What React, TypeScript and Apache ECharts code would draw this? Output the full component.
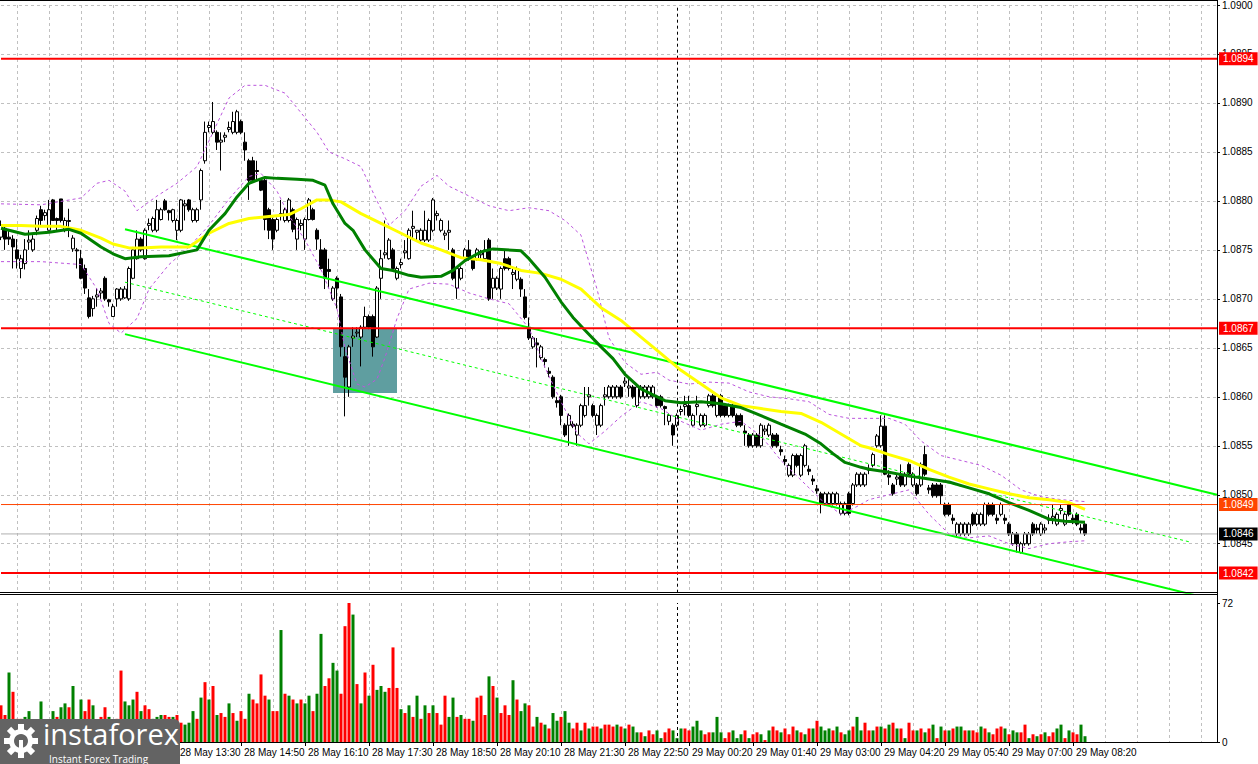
import React, { useEffect, useRef } from "react";
import * as echarts from "echarts";

// ---------- DATA (prices in pips above 1.0800) ----------
const BASE = 1.08;
const PIP = 0.0001;
const N_SLOTS = 305;

const opens = [76.3,77.2,76.3,76.1,75.0,73.1,73.6,75.8,75.0,77.0,79.1,78.5,77.0,80.1,78.2,80.2,77.0,77.9,75.1,75.0,74.1,73.1,70.1,69.0,70.2,70.6,72.1,69.9,68.2,70.0,70.0,70.1,70.0,72.1,74.1,76.1,74.1,77.5,77.0,77.0,78.1,80.0,79.0,78.0,77.0,77.0,79.5,80.1,78.0,78.0,80.1,84.1,87.5,87.0,87.0,86.0,86.5,87.3,87.0,87.0,88.1,86.0,84.1,84.1,83.1,82.1,82.1,79.1,78.1,77.0,78.5,78.0,78.0,79.1,76.1,77.5,76.1,78.1,79.1,77.0,75.0,75.0,73.0,70.0,72.1,70.2,64.1,61.0,66.0,66.5,66.1,67.1,68.2,68.2,66.1,72.1,74.5,74.1,75.0,72.1,73.5,74.7,74.1,77.2,76.8,76.0,76.0,76.0,77.0,78.5,77.0,76.5,76.8,75.0,71.1,72.1,74.1,75.0,74.1,74.1,74.5,74.1,76.0,71.1,71.1,71.0,74.1,74.1,72.5,72.0,72.0,70.2,67.1,65.1,65.5,64.0,63.8,62.6,62.0,59.6,60.0,57.1,57.1,57.2,56.1,57.1,58.1,60.0,59.1,57.1,57.1,60.0,60.0,60.0,60.0,61.0,61.4,60.9,61.0,59.1,60.0,60.0,60.0,60.0,60.0,60.0,59.0,57.5,57.1,57.1,58.5,59.0,59.1,57.1,59.0,57.1,57.1,59.1,60.1,58.1,60.1,59.1,58.1,59.1,58.1,58.1,56.5,56.1,55.0,56.1,55.0,56.5,56.1,56.1,56.1,54.6,53.6,52.0,52.0,54.0,52.0,53.0,52.6,51.6,50.6,50.1,49.1,49.1,49.1,49.1,48.1,48.1,50.1,49.1,51.0,51.0,51.0,52.5,53.0,55.0,55.0,57.0,52.0,51.0,51.6,52.1,51.0,53.1,51.0,51.0,51.0,54.1,50.7,51.0,51.0,51.0,49.0,49.0,47.6,46.0,46.0,46.0,46.0,48.0,47.0,47.0,47.0,49.0,49.0,47.6,48.0,47.6,47.0,45.0,46.0,44.1,45.0,45.0,47.0,46.6,46.0,46.4,47.4,47.6,47.0,48.4,47.0,49.0,47.6,48.0,46.6,47.0];
const highs = [78.0,77.5,77.0,76.5,76.1,74.5,76.1,77.0,76.5,78.5,79.5,79.1,80.1,80.2,78.3,80.2,78.3,79.2,76.5,75.2,75.0,73.5,71.0,70.3,71.1,71.1,72.3,70.0,69.5,71.1,71.2,71.3,73.3,75.3,77.0,76.3,77.2,78.2,78.4,80.1,79.3,80.2,79.1,79.2,78.2,80.2,80.1,80.2,79.3,79.3,83.3,88.1,88.1,90.1,87.2,87.0,87.0,88.1,89.1,89.3,88.3,87.0,84.3,84.5,84.1,82.3,82.3,79.3,78.3,78.3,80.1,79.3,80.3,79.3,78.3,78.1,78.3,80.3,79.3,77.2,76.1,75.2,74.1,71.3,72.3,70.5,65.1,65.3,67.1,67.1,67.3,69.2,68.4,68.4,71.3,75.0,78.0,76.2,75.2,73.3,74.1,76.0,77.2,79.0,77.0,77.2,79.0,78.2,80.3,79.0,78.2,77.0,78.0,75.2,73.3,73.3,75.2,76.0,74.3,75.2,75.0,76.0,76.2,73.1,72.3,73.3,75.0,74.3,73.1,73.3,72.2,71.0,68.1,66.2,66.0,65.3,64.0,63.0,62.2,60.0,60.2,57.3,58.3,57.5,57.3,59.3,61.0,61.0,59.3,58.3,59.3,61.0,61.2,61.2,61.2,61.2,62.0,62.0,61.2,61.2,61.2,61.2,61.2,61.2,60.2,60.2,59.1,58.3,57.3,58.3,59.1,60.1,60.1,58.3,60.1,58.3,58.3,60.3,60.3,60.3,60.3,59.3,59.3,59.3,58.3,58.3,57.1,56.3,56.3,56.3,57.3,57.1,57.3,56.3,56.3,55.0,54.0,53.2,54.2,54.2,54.2,55.2,53.0,52.0,51.0,50.3,50.3,50.3,50.3,50.3,49.3,49.3,50.3,51.2,52.3,52.3,52.3,53.1,54.3,56.2,58.1,58.1,52.5,51.2,52.1,53.1,52.3,53.3,52.3,51.2,53.3,55.0,51.0,51.2,51.2,51.2,49.2,49.2,48.0,47.2,47.2,47.2,47.2,48.2,48.2,48.2,49.2,49.2,49.2,48.0,49.2,48.0,47.2,46.2,46.2,45.2,46.2,46.2,47.2,47.0,47.2,47.0,48.0,49.0,48.2,49.0,48.2,49.2,48.0,48.2,47.0,47.2];
const lows = [76.0,75.0,75.5,73.1,73.1,72.1,73.0,75.0,74.8,76.5,77.5,78.0,77.0,78.0,77.0,77.8,76.8,76.3,74.8,73.1,72.0,70.5,68.0,68.2,69.2,70.0,69.8,69.2,68.2,69.2,69.8,70.0,69.8,72.0,74.0,74.8,74.0,77.0,76.8,76.8,78.0,79.0,78.0,77.8,76.0,76.8,78.0,78.9,77.8,77.8,79.1,83.8,87.0,86.8,85.2,83.1,86.0,87.0,86.8,86.8,86.8,84.1,80.1,82.0,82.1,81.0,77.0,76.1,75.0,76.8,78.0,77.8,77.8,76.8,75.0,77.0,75.0,78.0,78.0,75.0,73.0,71.0,71.1,69.8,69.0,64.1,58.0,60.0,65.1,66.1,63.1,67.0,66.9,64.1,66.0,70.0,74.1,74.0,72.9,71.9,73.1,74.1,74.0,76.0,76.0,75.8,75.8,75.8,76.8,78.0,76.8,76.0,75.0,71.9,70.0,71.9,73.9,73.9,72.9,73.9,74.1,73.9,69.8,70.0,70.9,70.0,72.9,72.9,71.0,71.8,70.2,67.9,65.8,64.9,63.0,63.8,63.0,62.0,59.8,58.9,57.1,55.9,55.0,56.8,55.0,56.9,57.9,59.1,57.9,56.1,56.9,59.1,59.8,59.8,59.8,59.8,61.0,60.0,59.8,58.9,59.8,59.8,59.8,59.8,58.9,58.9,57.1,57.1,55.0,56.9,58.1,58.1,57.9,56.9,58.1,56.9,56.9,58.9,58.9,57.9,57.9,57.9,57.9,57.9,56.9,56.9,55.0,54.8,54.8,54.8,54.8,56.1,55.9,54.8,54.8,54.0,53.0,51.8,51.8,52.8,51.8,52.8,52.0,51.0,50.1,48.1,48.9,48.9,48.9,48.9,47.9,47.9,47.9,48.9,50.8,50.8,50.8,52.1,52.8,54.8,54.8,52.0,51.0,49.9,51.0,50.8,50.8,51.9,50.8,49.9,50.8,51.9,50.1,49.7,49.7,49.0,47.8,47.8,47.0,45.8,45.8,45.8,45.8,46.8,46.8,46.8,46.8,47.8,47.8,47.0,47.8,47.0,45.8,44.8,44.1,44.0,44.8,44.8,45.8,46.0,45.8,46.0,47.0,47.0,46.8,48.0,46.8,47.8,47.0,46.8,46.0,45.8];
const closes = [77.5,76.1,76.1,75.3,74.1,74.1,75.0,76.0,76.1,78.2,78.0,78.8,79.1,78.0,78.0,78.0,78.0,78.0,76.2,74.9,72.1,71.1,68.2,70.0,70.4,70.8,70.0,69.7,69.2,71.0,71.0,71.0,73.1,75.0,76.1,75.0,77.0,77.7,78.2,79.1,79.1,79.1,78.8,79.1,78.0,80.1,79.7,79.1,79.1,79.1,83.1,87.0,87.7,88.1,86.0,86.2,86.7,87.5,88.1,89.1,87.0,85.2,82.1,82.1,83.0,81.1,78.1,77.0,76.1,78.1,78.7,79.1,80.1,77.1,78.1,77.7,78.1,80.1,78.1,76.1,73.1,72.1,72.8,71.1,71.1,65.1,62.0,65.1,66.2,66.6,67.1,68.2,67.1,65.1,71.1,74.1,74.7,76.0,73.1,73.1,73.7,74.9,77.0,77.4,77.0,77.0,77.0,78.0,80.1,78.7,78.0,76.7,77.0,72.1,73.1,73.1,75.0,74.1,73.1,75.0,74.7,75.0,70.0,72.1,72.1,73.1,73.1,73.1,72.7,73.1,71.0,68.1,66.0,66.0,65.3,65.1,63.6,62.4,60.0,59.4,58.1,56.1,58.1,57.0,57.1,59.1,59.1,60.2,58.1,58.1,59.1,60.2,61.0,61.0,61.0,60.0,61.6,61.1,60.0,61.0,61.0,61.0,61.0,61.0,59.1,59.1,58.8,58.1,56.1,58.1,58.7,59.2,58.1,58.1,59.2,58.1,58.1,60.1,59.1,60.1,58.1,58.1,59.1,58.1,57.1,57.1,56.3,55.0,56.1,55.0,57.1,56.7,57.1,55.0,55.0,54.4,53.4,53.0,54.0,53.0,54.0,55.0,52.4,51.4,50.4,49.1,50.1,50.1,50.1,50.1,49.1,49.1,48.1,51.0,52.1,52.1,52.1,52.7,54.1,56.0,57.0,52.1,51.8,50.1,51.8,51.0,52.1,52.1,52.1,50.1,53.1,52.1,50.5,49.9,49.9,49.9,48.0,48.0,47.4,47.0,47.0,47.0,47.0,47.0,48.0,48.0,49.0,48.0,48.0,47.4,49.0,47.4,46.0,46.0,45.0,45.0,46.0,46.0,46.0,46.4,47.0,46.6,47.6,47.8,48.0,48.6,48.0,48.0,47.4,47.0,46.4,46.0];

const volumes = [19,14,36,26,12,12,13,16,10,8,21,10,9,16,13,18,20,18,29,10,22,16,22,19,9,13,18,13,8,12,37,21,19,22,26,16,19,17,12,13,14,14,13,13,14,10,9,10,16,12,23,31,22,29,14,15,13,20,15,11,16,12,25,22,20,35,24,22,16,16,58,25,24,22,20,22,20,24,16,25,56,29,33,41,37,25,60,72,66,30,20,36,24,40,27,29,26,28,49,28,17,15,19,13,24,12,19,15,19,15,9,24,13,23,13,14,12,12,11,23,24,14,34,29,23,15,19,14,32,22,16,20,19,8,13,10,9,7,15,11,13,16,10,7,10,6,10,7,8,8,7,9,9,8,9,8,7,9,8,5,5,3,6,4,6,2,5,7,6,2,7,7,6,8,11,6,4,5,5,13,5,2,5,6,2,4,6,2,4,5,4,1,6,8,6,5,7,4,8,6,5,4,7,7,11,8,6,7,6,8,5,4,6,8,13,6,10,6,6,8,8,7,9,10,7,7,2,10,6,6,7,5,7,9,2,8,6,6,7,8,8,6,6,6,5,8,7,5,4,7,8,7,4,6,5,5,9,2,4,3,4,5,3,5,7,9,2,6,5,4,9,3];
const volumeUp = "rrgrrrgg rrgrrgrggrgrgrrggrrggrrgggrgrrgggrrgrrgggrgrgrgrrgrgrrgrrrrgrrgrgrgrggrggrrggrrrgrgrgrgggrrrgrgrgrgrgrrrggrgrrgrrrgrgrrrgrggrrgrgrggrggrrgrgrrgrrrgrgrggrgrrggrrgggrrgggrrgggrrgggrgrrgrgrrgrrrgrgrgrgggrgrggrggrrgrgrgrgrgrrgrgrgrgrgrggrgrrgrgrrrgrggrrgrgrgrrggrgrrgggrgrrgg".replace(/ /g, "");

// moving averages: [bar index, pips]
const maGreenIdx = [0,6,12,17,20,25,28,31,35,42,49,52,56,59,62,66,69,74,78,81,83,86,88,91,95,98,102,105,110,113,116,120,123,130,132,136,140,143,146,150,153,156,160,163,166,170,175,180,185,188,191,195,198,201,205,208,211,215,217,222,227,232,237,242,247,252,257,262,266,271];
const maGreenVal = [77.2,76.6,76.8,77.1,76.7,75.3,74.6,74.1,74.3,74.4,75.0,77.0,78.7,80.4,81.8,82.4,82.3,82.2,82.1,81.6,79.7,77.7,77.0,75.0,73.1,72.9,72.4,72.2,72.3,72.9,73.9,74.8,75.1,74.9,74.1,72.2,69.7,68.1,66.8,65.1,63.9,62.3,60.8,60.2,59.6,59.4,59.5,59.3,58.9,58.4,57.9,57.2,56.7,56.2,55.2,54.2,53.3,52.8,52.6,52.3,51.9,51.6,51.3,50.7,50.1,49.2,48.4,47.5,47.3,47.2];
const maYellowIdx = [0,5,10,15,20,25,28,32,35,40,45,47,52,57,62,67,72,75,79,82,85,90,95,100,105,110,115,120,125,130,135,140,145,150,155,160,165,170,175,180,185,190,195,200,205,210,215,217,222,227,232,237,242,247,252,257,262,267,271];
const maYellowVal = [77.5,77.5,77.4,77.4,77.0,76.2,75.6,75.2,75.2,75.3,75.3,75.3,76.7,77.7,78.2,78.4,78.6,79.2,80.1,80.1,79.9,78.7,77.7,76.7,75.7,75.0,74.2,74.0,73.6,72.9,72.6,72.0,71.0,69.1,67.8,66.1,64.4,62.7,61.3,59.9,59.1,58.8,58.5,58.3,57.4,56.2,55.0,54.8,54.1,53.5,52.6,51.8,51.1,50.6,50.1,49.7,49.5,49.2,48.5];

// envelope bands
const bandUpIdx = [0,10,20,24,27,31,34,39,44,49,53,57,61,66,71,75,79,82,86,90,94,97,101,105,109,112,117,122,127,132,137,141,145,149,152,156,160,164,167,172,177,182,187,192,197,202,207,212,217,222,226,230,235,240,245,250,255,260,265,271];
const bandUpVal = [79.7,79.6,80.3,81.8,82.1,81.0,79.0,80.5,81.8,83.5,87,90.5,91.8,91.8,91.0,89.0,87.0,85,84.3,83.5,80,77.5,79,81.5,82.6,81.5,80.5,79.5,79,79.3,79,78,76.5,71,66,63.5,62.3,62.5,61.7,61.3,61.5,61.4,60.5,60,59.8,59.5,58.2,57.8,57.8,57.8,57.2,55.5,54,53.5,53,52,50.5,49.8,49.5,49.3];
const bandLowIdx = [0,10,20,24,27,30,34,37,42,47,52,57,62,65,69,72,76,80,84,86,89,91,94,96,99,102,107,112,117,122,127,132,136,140,144,147,151,155,160,165,170,175,180,185,190,195,200,205,210,214,217,222,227,232,237,242,247,252,257,262,267,271];
const bandLowVal = [73.8,73.8,73.5,71,67.5,66.5,68,71,73.5,75.3,77.5,80.2,82.5,82.8,81,78.5,76,73,69,65,61.3,61,61.8,64,68,71,71.6,71.5,70.6,70,69.5,67,63,59.5,56.3,55.2,56.5,58,59.5,58.8,57.5,56.6,57.2,57.5,56,53.5,51.5,49.5,48,48.8,49.5,50,50.5,48,46,45.6,45.8,45,44.5,45,45.2,45.3];

// trend channel endpoints [bar index, pips]
const channelUpper = [[31, 77.08], [304, 49.96]];
const channelMiddle = [[31, 71.73], [297, 45.19]];
const channelLower = [[31, 66.4], [304, 39.17]];

// horizontal levels
const levelValues = [1.08945, 1.0867, 1.0842];
const levelLabels = ["1.0894", "1.0867", "1.0842"];
const bidValue = 1.0849;
const lastValue = 1.0846;
const zoneBox = { from: 83, to: 99, top: 1.0867, bottom: 1.08604 };
const daySeparator = 169;

// time axis
const N_BARS = opens.length;
const categories: string[] = (() => {
  const out: string[] = [];
  let t = 28 * 1440 + 9 * 60 + 50;
  while (out.length < N_BARS) {
    const d = Math.floor(t / 1440);
    const m = t % 1440;
    const skip = (d === 28 && m === 23 * 60 + 55) || (d === 29 && m === 0);
    if (!skip) {
      const hh = String(Math.floor(m / 60)).padStart(2, "0");
      const mm = String(m % 60).padStart(2, "0");
      out.push(`${d} May ${hh}:${mm}`);
    }
    t += 5;
  }
  while (out.length < N_SLOTS) out.push("");
  return out;
})();

const px = (v: number) => +(BASE + v * PIP).toFixed(5);
const FONT = "Liberation Sans, Arial, sans-serif";

export default function App() {
  const ref = useRef<HTMLDivElement>(null);
  useEffect(() => {
    if (!ref.current) return;
    const chart = echarts.init(ref.current, null, { renderer: "svg" });
    const candleData = opens.map((o, i) => [px(o), px(closes[i]), px(lows[i]), px(highs[i])]);
    const volData = volumes.map((v, i) => ({
      value: v,
      itemStyle: { color: volumeUp[i] === "g" ? "#008000" : "#ff0000" },
    }));
    const pairs = (idx: number[], val: number[]) => idx.map((i, k) => [i, px(val[k])]);
    const chan = (c: number[][]) => c.map((p) => [p[0], px(p[1])]);
    const showLabel = (i: number) => i >= 44 && i <= 268 && (i - 44) % 16 === 0;
    const showGrid = (i: number) => i % 8 === 4;
    const gridLine = { show: true, interval: showGrid, lineStyle: { color: "#c0c0c0", type: [3, 3] as any, width: 1 } };

    const lineSeries = (data: any, color: string, width: number, type: any, z: number) => ({
      type: "line",
      xAxisIndex: 0,
      yAxisIndex: 0,
      data,
      symbol: "none",
      silent: true,
      z,
      lineStyle: { color, width, type },
    });

    const levelSeries = (value: number, text: string, color: string, width: number, bg: string) => ({
      type: "line",
      xAxisIndex: 0,
      yAxisIndex: 0,
      data: [[0, value], [N_SLOTS - 1, value]],
      symbol: "none",
      silent: true,
      z: 8,
      lineStyle: { color, width, type: "solid" },
      endLabel: {
        show: true,
        formatter: text,
        distance: 2,
        color: "#ffffff",
        backgroundColor: bg,
        padding: [2, 4, 1, 4],
        fontSize: 10,
        fontFamily: FONT,
      },
    });

    const Z = 100;
    const option: any = {
      animation: false,
      backgroundColor: "#ffffff",
      grid: [
        { left: 1, width: 1216, top: 4.7, height: 588 },
        { left: 1, width: 1216, top: 603, height: 139 },
      ],
      xAxis: [
        {
          type: "category", gridIndex: 0, data: categories, boundaryGap: false,
          axisLine: { show: false }, axisTick: { show: false }, axisLabel: { show: false },
          splitLine: gridLine,
        },
        {
          type: "category", gridIndex: 1, data: categories, boundaryGap: false,
          axisLine: { show: true, lineStyle: { color: "#000", width: 1 } },
          axisTick: { show: true, interval: showLabel, length: 4, lineStyle: { color: "#000" } },
          axisLabel: {
            interval: showLabel, align: "left", margin: 5, padding: [0, 0, 0, 3],
            fontSize: 10, color: "#000", fontFamily: FONT,
          },
          splitLine: gridLine,
        },
      ],
      yAxis: [
        {
          type: "value", gridIndex: 0, position: "right", min: 1.084, max: 1.09, interval: 0.0005,
          axisLine: { show: true, lineStyle: { color: "#000" } },
          axisTick: { show: true, length: 3, lineStyle: { color: "#000" } },
          axisLabel: {
            showMinLabel: false, margin: 5, fontSize: 10, color: "#000", fontFamily: FONT,
            formatter: (v: number) => v.toFixed(4),
          },
          splitLine: { show: true, lineStyle: { color: "#c0c0c0", type: [3, 3], width: 1 } },
        },
        {
          type: "value", gridIndex: 1, position: "right", min: 0, max: 72, interval: 72,
          axisLine: { show: true, lineStyle: { color: "#000" } },
          axisTick: { show: true, length: 3, lineStyle: { color: "#000" } },
          axisLabel: { margin: 5, fontSize: 10, color: "#000", fontFamily: FONT },
          splitLine: { show: false },
        },
      ],
      series: [
        {
          type: "line", xAxisIndex: 0, yAxisIndex: 0, data: [], z: 1, silent: true,
          markArea: {
            silent: true,
            itemStyle: { color: "#5f9ea0", opacity: 1 },
            data: [[{ xAxis: zoneBox.from, yAxis: zoneBox.top }, { xAxis: zoneBox.to, yAxis: zoneBox.bottom }]],
          },
        },
        {
          type: "candlestick", xAxisIndex: 0, yAxisIndex: 0, data: candleData, barWidth: 3, z: 3,
          silent: true,
          itemStyle: { color: "#ffffff", color0: "#000000", borderColor: "#000000", borderColor0: "#000000", borderWidth: 1 },
          markLine: {
            silent: true, symbol: ["none", "none"],
            data: [{ xAxis: daySeparator, lineStyle: { color: "#000", width: 1, type: [3, 3] }, label: { show: false } }],
          },
        },
        lineSeries(pairs(bandUpIdx, bandUpVal), "#bb55dd", 1, [3, 3], 4),
        lineSeries(pairs(bandLowIdx, bandLowVal), "#bb55dd", 1, [3, 3], 4),
        lineSeries(chan(channelUpper), "#00ff00", 2, "solid", 4),
        lineSeries(chan(channelLower), "#00ff00", 2, "solid", 4),
        lineSeries(chan(channelMiddle), "#00ff00", 1, [3, 3], 4),
        lineSeries(pairs(maYellowIdx, maYellowVal), "#ffff00", 3, "solid", 5),
        lineSeries(pairs(maGreenIdx, maGreenVal), "#008000", 3, "solid", 6),
        ...levelValues.map((v, k) => levelSeries(v, levelLabels[k], "#ff0000", 2, "#ff0000")),
        levelSeries(bidValue, bidValue.toFixed(4), "#ff4500", 1, "#ff4500"),
        levelSeries(lastValue, lastValue.toFixed(4), "#b0b0b0", 1, "#000000"),
        {
          type: "bar", xAxisIndex: 1, yAxisIndex: 1, data: volData, barWidth: 3, silent: true, z: 2,
          markLine: {
            silent: true, symbol: ["none", "none"],
            data: [{ xAxis: daySeparator, lineStyle: { color: "#000", width: 1, type: [3, 3] }, label: { show: false } }],
          },
        },
      ],
      graphic: [
        { type: "line", z: Z, shape: { x1: 0, y1: 0.5, x2: 1217, y2: 0.5 }, style: { stroke: "#000", lineWidth: 1 } },
        { type: "line", z: Z, shape: { x1: 0, y1: 592.5, x2: 1217, y2: 592.5 }, style: { stroke: "#000", lineWidth: 1 } },
        { type: "line", z: Z, shape: { x1: 0, y1: 594.5, x2: 1217, y2: 594.5 }, style: { stroke: "#000", lineWidth: 1 } },
        { type: "line", z: Z, shape: { x1: 1217.5, y1: 0, x2: 1217.5, y2: 742 }, style: { stroke: "#000", lineWidth: 1 } },
        { type: "rect", z: Z, shape: { x: 0, y: 719, width: 180, height: 50, r: [0, 6, 0, 0] }, style: { fill: "#636363" } },
        { type: "ring", z: Z + 1, shape: { cx: 21, cy: 741, r: 12, r0: 7 }, style: { fill: "#ffffff" } },
        ...[0, 45, 90, 135, 180, 225, 270, 315].map((a) => ({
          type: "rect",
          z: Z + 1,
          x: 21, y: 741, rotation: (a * Math.PI) / 180,
          shape: { x: -3, y: -17, width: 6, height: 6 },
          style: { fill: "#ffffff" },
        })),
        { type: "rect", z: Z + 1, shape: { x: 19, y: 740, width: 4, height: 9 }, style: { fill: "#ffffff" } },
        {
          type: "text", z: Z + 1, x: 43, y: 719,
          style: {
            text: "instaforex", fill: "#ffffff", fontSize: 29, lineHeight: 28,
            fontFamily: "Open Sans, sans-serif", verticalAlign: "top", align: "left",
          },
        },
        {
          type: "text", z: Z + 1, x: 49, y: 753,
          style: {
            text: "Instant Forex Trading", fill: "#ffffff", fontSize: 10, lineHeight: 11,
            fontFamily: "Open Sans, sans-serif", verticalAlign: "top", align: "left",
          },
        },
      ],
    };
    chart.setOption(option);
    return () => chart.dispose();
  }, []);
  return <div ref={ref} style={{ position: "absolute", left: 0, top: 0, width: 1258, height: 764 }} />;
}
